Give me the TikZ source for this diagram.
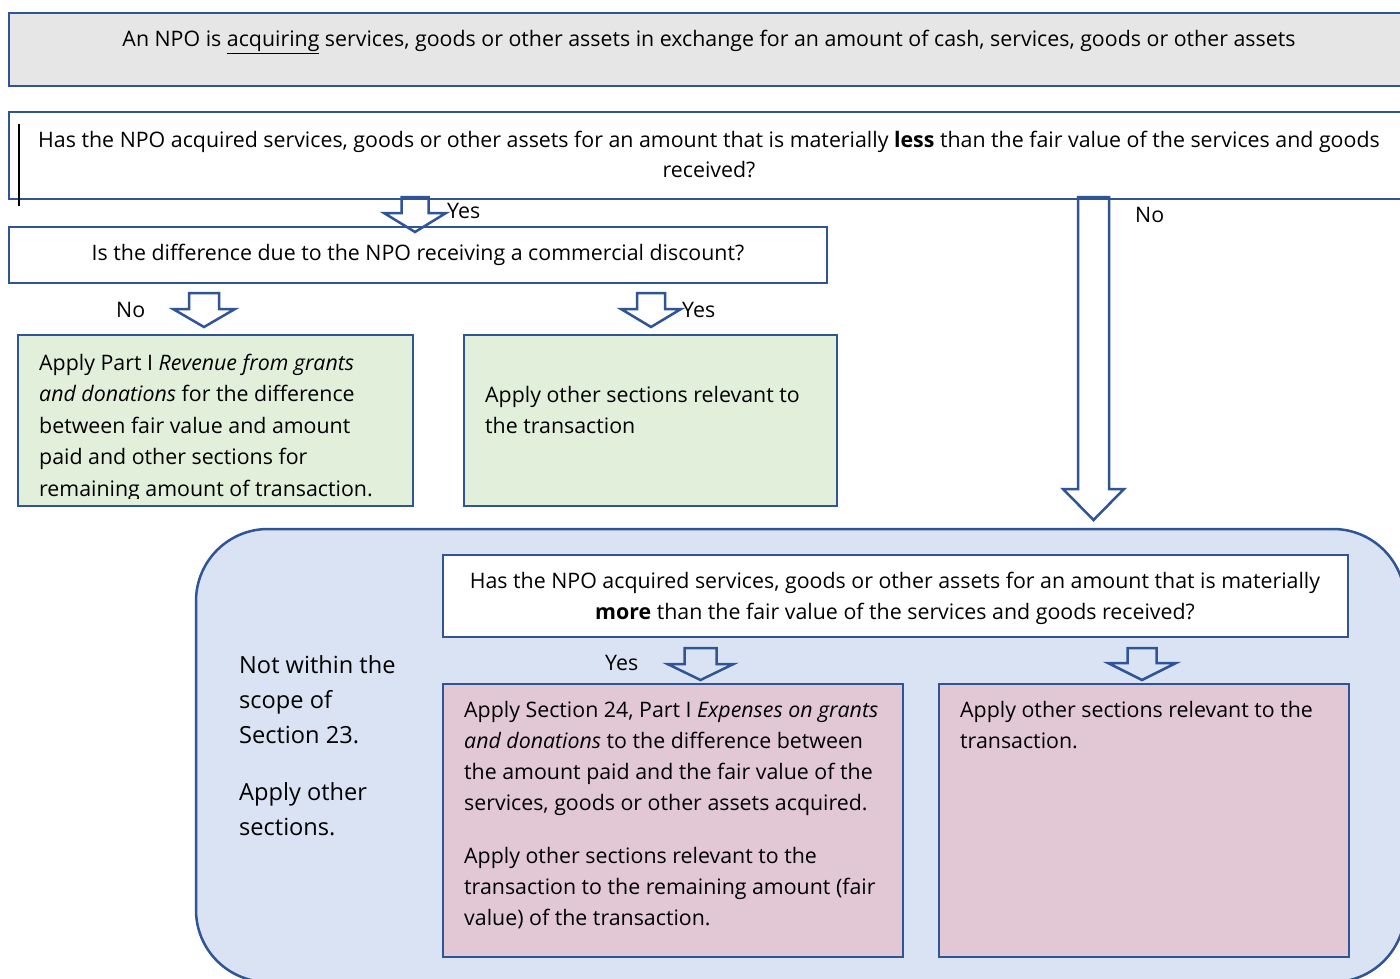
\documentclass[tikz,border=0pt]{standalone}
\usepackage{fontspec}
\setmainfont{Open Sans}
\definecolor{edge}{RGB}{47,85,151}
\definecolor{greyfill}{RGB}{231,230,230}
\definecolor{bluefill}{RGB}{218,227,243}
\definecolor{greenfill}{RGB}{226,239,218}
\definecolor{pinkfill}{RGB}{226,200,213}
\newcommand\fmain{\fontsize{21.35pt}{31pt}\selectfont}
\newcommand\fside{\fontsize{23.6pt}{35pt}\selectfont}
% hollow block arrow pointing down: centre x, top y, neck y, half shaft, half head, tip y
\newcommand\downblock[6]{%
  \draw[blockarrow] ({#1-#4},#2) -- ({#1+#4},#2) -- ({#1+#4},#3) -- ({#1+#5},#3)
    -- (#1,#6) -- ({#1-#5},#3) -- ({#1-#4},#3) -- cycle;}
\begin{document}
\begin{tikzpicture}[x=1pt,y=-1pt,
  box/.style={draw=edge, line width=2.5pt, inner sep=0pt, outer sep=0pt, anchor=north west},
  blockarrow/.style={draw=edge, line width=2.5pt, line join=miter},
  ctext/.style={inner sep=0pt, anchor=base, font=\fmain},
  ltext/.style={inner sep=0pt, anchor=base west, font=\fmain},
]
\useasboundingbox (0,0) rectangle (1400,979);
\clip (0,0) rectangle (1400,979);
\fill[white] (0,0) rectangle (1400,979);

% starting point
\node[box, fill=greyfill, minimum width=1400pt, minimum height=73pt] (start) at (9,13) {};
\node[ctext] (starttxt) at (709,47) {\parbox[t]{1380pt}{\centering
  An NPO is \underline{acquiring} services, goods or other assets in exchange for an amount of cash, services, goods or other assets}};

% first question
\node[box, fill=white, minimum width=1400pt, minimum height=87pt] (less) at (9,112) {};
\node[ctext] (lesstxt) at (709,147) {\parbox[t]{1395pt}{\centering
  Has the NPO acquired services, goods or other assets for an amount that is materially \textbf{less} than the fair value of the services and goods\\
  received?}};
\coordinate (cur1) at (19,124);
\coordinate (cur2) at (19,206);
\draw[black, line width=1.5pt] (cur1) -- (cur2);

% discount question
\node[box, fill=white, minimum width=818pt, minimum height=56pt] (disc) at (9,227) {};
\node[ctext] (disctxt) at (418,260) {Is the difference due to the NPO receiving a commercial discount?};

% green outcomes
\node[box, fill=greenfill, minimum width=395pt, minimum height=171pt] (grant) at (18,335) {};
\begin{scope}
  \clip (20,337) rectangle (411,498);
  \node[ltext] (granttxt) at (39,370) {\parbox[t]{380pt}{\raggedright\fontsize{21.35pt}{31.5pt}\selectfont
    Apply Part I \textit{Revenue from grants}\\
    \textit{and donations} for the difference\\
    between fair value and amount\\
    paid and other sections for\\
    remaining amount of transaction.}};
\end{scope}
\node[box, fill=greenfill, minimum width=373pt, minimum height=171pt] (othergreen) at (464,335) {};
\node[ltext] (othergreentxt) at (485,402) {\parbox[t]{360pt}{\raggedright
  Apply other sections relevant to\\ the transaction}};

% scope region
\node[box, fill=bluefill, rounded corners=72pt, minimum width=1209pt, minimum height=453pt] (region) at (196,529) {};
\node[ltext, font=\fside] (scopetxt) at (239,673) {\parbox[t]{200pt}{\raggedright
  Not within the\\ scope of\\ Section 23.\\[22pt] Apply other\\ sections.}};

% second question
\node[box, fill=white, minimum width=905pt, minimum height=82pt] (more) at (443,555) {};
\node[ctext] (moretxt) at (895,588) {\parbox[t]{900pt}{\centering
  Has the NPO acquired services, goods or other assets for an amount that is materially\\
  \textbf{more} than the fair value of the services and goods received?}};

% pink outcomes
\node[box, fill=pinkfill, minimum width=460pt, minimum height=273pt] (expense) at (443,684) {};
\node[ltext] (expensetxt) at (464,717) {\parbox[t]{440pt}{\raggedright
  Apply Section 24, Part I \textit{Expenses on grants}\\
  \textit{and donations} to the difference between\\
  the amount paid and the fair value of the\\
  services, goods or other assets acquired.\\[22pt]
  Apply other sections relevant to the\\
  transaction to the remaining amount (fair\\
  value) of the transaction.}};
\node[box, fill=pinkfill, minimum width=410pt, minimum height=273pt] (otherpink) at (939,684) {};
\node[ltext] (otherpinktxt) at (960,717) {\parbox[t]{380pt}{\raggedright
  Apply other sections relevant to the\\ transaction.}};

% block arrows and their labels
\downblock{415}{197}{213}{13.5}{31}{232}
\node[ltext] (yes1) at (447,218) {Yes};
\downblock{1093.5}{197}{489}{15.5}{30.5}{520}
\node[ltext] (no1) at (1135,222) {No};
\downblock{204}{293}{309}{15}{31}{327}
\node[ltext] (no2) at (116,317) {No};
\downblock{651}{293}{309}{14}{30}{327}
\node[ltext] (yes2) at (682,317) {Yes};
\downblock{700.5}{648}{664}{16}{33}{680}
\node[ltext] (yes3) at (605,670) {Yes};
\downblock{1142}{648}{663}{14.5}{34}{680}
\end{tikzpicture}
\end{document}
